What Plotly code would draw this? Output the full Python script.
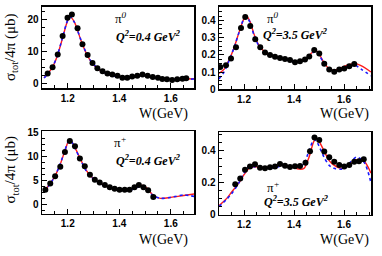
import plotly.graph_objects as go

W, H = 382, 256

# ---------- data: measured points ----------
w_p0_04 = [1.122, 1.141, 1.161, 1.180, 1.199, 1.216, 1.238, 1.257, 1.277, 1.296, 1.315, 1.335,
           1.354, 1.373, 1.393, 1.412, 1.431, 1.450, 1.470, 1.490, 1.510, 1.530, 1.550, 1.567,
           1.585, 1.605, 1.625, 1.645, 1.660]
s_p0_04 = [3.1, 5.1, 9.1, 14.9, 20.6, 21.6, 17.3, 12.3, 8.9, 6.4, 4.8, 3.8,
           3.1, 2.8, 2.4, 1.8, 1.8, 2.2, 2.4, 2.8, 2.4, 2.0, 1.8, 1.4,
           1.3, 1.1, 1.3, 1.5, 1.6]

w_p0_35 = [1.105, 1.128, 1.148, 1.168, 1.188, 1.205, 1.225, 1.245, 1.265, 1.284, 1.304, 1.324,
           1.344, 1.364, 1.384, 1.404, 1.424, 1.444, 1.461, 1.481, 1.501, 1.521, 1.541, 1.561,
           1.581, 1.601, 1.621, 1.641]
s_p0_35 = [0.129, 0.139, 0.179, 0.244, 0.355, 0.420, 0.367, 0.290, 0.244, 0.213, 0.198, 0.189,
           0.181, 0.176, 0.170, 0.157, 0.163, 0.172, 0.190, 0.228, 0.207, 0.148, 0.114, 0.102,
           0.114, 0.120, 0.133, 0.146]

w_pp_04 = [1.113, 1.132, 1.151, 1.171, 1.189, 1.208, 1.228, 1.247, 1.266, 1.286, 1.305, 1.324,
           1.344, 1.363, 1.382, 1.401, 1.421, 1.440, 1.459, 1.476, 1.494, 1.512, 1.532]
s_pp_04 = [3.0, 4.3, 5.8, 7.8, 10.9, 13.2, 12.1, 9.5, 7.9, 6.1, 5.1, 4.5,
           4.0, 3.5, 3.2, 3.0, 3.0, 3.0, 3.5, 4.0, 3.5, 2.9, 1.5]

w_pp_35 = [1.165, 1.185, 1.204, 1.224, 1.244, 1.264, 1.284, 1.304, 1.324, 1.344, 1.364, 1.384,
           1.404, 1.424, 1.446, 1.464, 1.482, 1.501, 1.521, 1.541, 1.561, 1.581, 1.601, 1.621,
           1.641, 1.660, 1.679]
s_pp_35 = [0.191, 0.227, 0.281, 0.301, 0.315, 0.293, 0.291, 0.297, 0.301, 0.317, 0.307, 0.299,
           0.303, 0.305, 0.325, 0.397, 0.484, 0.468, 0.395, 0.359, 0.332, 0.311, 0.301, 0.311,
           0.331, 0.334, 0.347]

# ---------- data: model curves (red solid, blue dashed) ----------
cw_p0_04 = [1.108, 1.12, 1.14, 1.16, 1.18, 1.20, 1.21, 1.225, 1.25, 1.27, 1.29, 1.32, 1.35,
            1.40, 1.45, 1.49, 1.53, 1.57, 1.62, 1.69]
cr_p0_04 = [1.8, 2.9, 5.0, 8.8, 14.3, 19.8, 20.8, 19.4, 13.8, 9.8, 6.9, 4.4, 3.1,
            2.0, 2.0, 2.6, 2.0, 1.4, 1.3, 1.5]
cb_p0_04 = [1.7, 2.8, 5.0, 8.9, 14.5, 19.9, 20.8, 19.3, 13.9, 9.9, 7.0, 4.5, 3.1,
            2.0, 2.0, 2.5, 2.0, 1.4, 1.3, 1.4]

cw_p0_35 = [1.10, 1.12, 1.14, 1.16, 1.18, 1.20, 1.21, 1.225, 1.24, 1.26, 1.28, 1.30, 1.33,
            1.36, 1.40, 1.43, 1.45, 1.47, 1.487, 1.50, 1.52, 1.54, 1.56, 1.58, 1.60, 1.62,
            1.645, 1.67, 1.708]
cr_p0_35 = [0.092, 0.115, 0.17, 0.24, 0.33, 0.41, 0.425, 0.39, 0.32, 0.255, 0.22, 0.20, 0.185,
            0.177, 0.16, 0.165, 0.18, 0.21, 0.225, 0.205, 0.155, 0.12, 0.11, 0.118, 0.132, 0.142,
            0.15, 0.135, 0.10]
cb_p0_35 = [0.06, 0.10, 0.165, 0.24, 0.33, 0.41, 0.42, 0.385, 0.315, 0.25, 0.215, 0.197, 0.182,
            0.175, 0.158, 0.163, 0.178, 0.205, 0.222, 0.20, 0.15, 0.117, 0.108, 0.115, 0.128, 0.135,
            0.138, 0.115, 0.078]

cw_pp_04 = [1.109, 1.13, 1.15, 1.17, 1.19, 1.205, 1.215, 1.23, 1.25, 1.27, 1.29, 1.32, 1.35,
            1.40, 1.44, 1.47, 1.49, 1.51, 1.53, 1.56, 1.60, 1.65, 1.69]
cr_pp_04 = [2.7, 4.2, 5.8, 8.2, 11.3, 13.3, 13.0, 11.6, 9.3, 7.2, 5.8, 4.6, 3.7,
            3.0, 3.0, 3.6, 3.9, 3.2, 1.9, 1.2, 1.4, 1.8, 2.1]
cb_pp_04 = [2.6, 4.1, 5.8, 8.3, 11.4, 13.3, 13.0, 11.5, 9.2, 7.1, 5.7, 4.5, 3.6,
            2.9, 2.9, 3.5, 3.8, 3.1, 1.8, 1.2, 1.4, 1.9, 1.6]

cw_pp_35 = [1.10, 1.13, 1.15, 1.18, 1.20, 1.22, 1.24, 1.28, 1.32, 1.36, 1.39, 1.42, 1.44,
            1.46, 1.48, 1.49, 1.50, 1.52, 1.54, 1.56, 1.59, 1.62, 1.65, 1.68, 1.708]
cr_pp_35 = [0.056, 0.10, 0.14, 0.20, 0.25, 0.29, 0.30, 0.295, 0.30, 0.31, 0.30, 0.285, 0.29,
            0.36, 0.46, 0.475, 0.46, 0.40, 0.34, 0.31, 0.29, 0.31, 0.345, 0.335, 0.26]
cb_pp_35 = [0.05, 0.095, 0.13, 0.20, 0.26, 0.30, 0.30, 0.29, 0.295, 0.305, 0.30, 0.30, 0.32,
            0.40, 0.47, 0.46, 0.43, 0.36, 0.31, 0.29, 0.285, 0.32, 0.36, 0.33, 0.20]

panels = [
    dict(w=w_p0_04, s=s_p0_04, cw=cw_p0_04, cr=cr_p0_04, cb=cb_p0_04,
         xr=[1.1, 1.69], yr=[-1.5, 24.0], ydt=10, ymin=2.5,
         dom_x=[42, 194], dom_y=[2, 87], pi="π<sup><i>0</i></sup>", q="0.4",
         pi_xy=(121, 14), q_xy=(148, 33)),
    dict(w=w_p0_35, s=s_p0_35, cw=cw_p0_35, cr=cr_p0_35, cb=cb_p0_35,
         xr=[1.1, 1.708], yr=[0.0, 0.478], ydt=0.1, ymin=0.025,
         dom_x=[219, 371], dom_y=[2, 88], pi="π<sup><i>0</i></sup>", q="3.5",
         pi_xy=(273, 14), q_xy=(295, 31)),
    dict(w=w_pp_04, s=s_pp_04, cw=cw_pp_04, cr=cr_pp_04, cb=cb_pp_04,
         xr=[1.1, 1.69], yr=[-2.0, 15.2], ydt=5, ymin=1.25,
         dom_x=[42, 194], dom_y=[132, 218], pi="π<sup><i>+</i></sup>", q="0.4",
         pi_xy=(121, 143), q_xy=(148, 163)),
    dict(w=w_pp_35, s=s_pp_35, cw=cw_pp_35, cr=cr_pp_35, cb=cb_pp_35,
         xr=[1.1, 1.708], yr=[0.0, 0.516], ydt=0.2, ymin=0.05,
         dom_x=[219, 371], dom_y=[133, 219], pi="π<sup><i>+</i></sup>", q="3.5",
         pi_xy=(273, 190), q_xy=(296, 205)),
]

fig = go.Figure()
layout = dict(width=W, height=H, margin=dict(l=0, r=0, t=0, b=0),
              paper_bgcolor="white", plot_bgcolor="white", showlegend=False)
annotations = []

tickfont = dict(family="Liberation Sans", size=10, color="black", weight="bold")
serif = "Liberation Serif"

for i, p in enumerate(panels, start=1):
    xa = "x" if i == 1 else f"x{i}"
    ya = "y" if i == 1 else f"y{i}"
    fig.add_trace(go.Scatter(x=p["cw"], y=p["cr"], mode="lines", xaxis=xa, yaxis=ya,
                             line=dict(color="#ff1a1a", width=1.4, shape="spline", smoothing=0.8)))
    fig.add_trace(go.Scatter(x=p["cw"], y=p["cb"], mode="lines", xaxis=xa, yaxis=ya,
                             line=dict(color="#1a1aff", width=1.6, dash="dot", shape="spline", smoothing=0.8)))
    fig.add_trace(go.Scatter(x=p["w"], y=p["s"], mode="markers", xaxis=xa, yaxis=ya,
                             marker=dict(color="black", size=6)))
    xk = "xaxis" if i == 1 else f"xaxis{i}"
    yk = "yaxis" if i == 1 else f"yaxis{i}"
    layout[xk] = dict(domain=[p["dom_x"][0] / W, p["dom_x"][1] / W], anchor=ya,
                      range=p["xr"], tick0=1.2, dtick=0.2, ticks="inside", ticklen=5,
                      tickwidth=1, tickcolor="black", showline=True, linecolor="black",
                      linewidth=1.5, mirror=True, showgrid=False, zeroline=False,
                      tickformat=".1f", tickfont=tickfont,
                      minor=dict(dtick=0.05, tick0=1.1, ticks="inside", ticklen=3,
                                 tickcolor="black", showgrid=False))
    layout[yk] = dict(domain=[1 - p["dom_y"][1] / H, 1 - p["dom_y"][0] / H], anchor=xa,
                      range=p["yr"], tick0=0, dtick=p["ydt"], ticks="inside", ticklen=5,
                      tickwidth=1, tickcolor="black", showline=True, linecolor="black",
                      linewidth=1.5, mirror=True, showgrid=False, zeroline=False,
                      tickfont=tickfont,
                      minor=dict(dtick=p["ymin"], tick0=0, ticks="inside", ticklen=3,
                                 tickcolor="black", showgrid=False))
    annotations.append(dict(x=p["pi_xy"][0] / W, y=1 - p["pi_xy"][1] / H, xref="paper", yref="paper",
                            xanchor="center", yanchor="middle",
                            text=p["pi"], showarrow=False,
                            font=dict(family=serif, size=13, color="black")))
    annotations.append(dict(x=p["q_xy"][0] / W, y=1 - p["q_xy"][1] / H, xref="paper", yref="paper",
                            xanchor="center", yanchor="middle",
                            text=f"<b><i>Q<sup>2</sup>={p['q']} GeV<sup>2</sup></i></b>", showarrow=False,
                            font=dict(family=serif, size=12, color="black")))

# axis titles
for xr, ytop in [(190, 103), (371, 103), (190, 235), (371, 235)]:
    annotations.append(dict(x=xr / W, y=1 - ytop / H, xref="paper", yref="paper",
                            xanchor="right", yanchor="top",
                            text="W(GeV)", showarrow=False,
                            font=dict(family=serif, size=14, color="black")))
for yc in [44, 172]:
    annotations.append(dict(x=11 / W, y=1 - yc / H, xref="paper", yref="paper", textangle=-90,
                            xanchor="center", yanchor="middle",
                            text="σ<sub>tot</sub>/4π (μb)", showarrow=False,
                            font=dict(family=serif, size=15, color="black")))

layout["annotations"] = annotations
fig.update_layout(**layout)
fig.write_html("out.html", config={"displayModeBar": False, "staticPlot": True},
               post_script="document.body.style.margin='0px';document.body.style.overflow='hidden';")
